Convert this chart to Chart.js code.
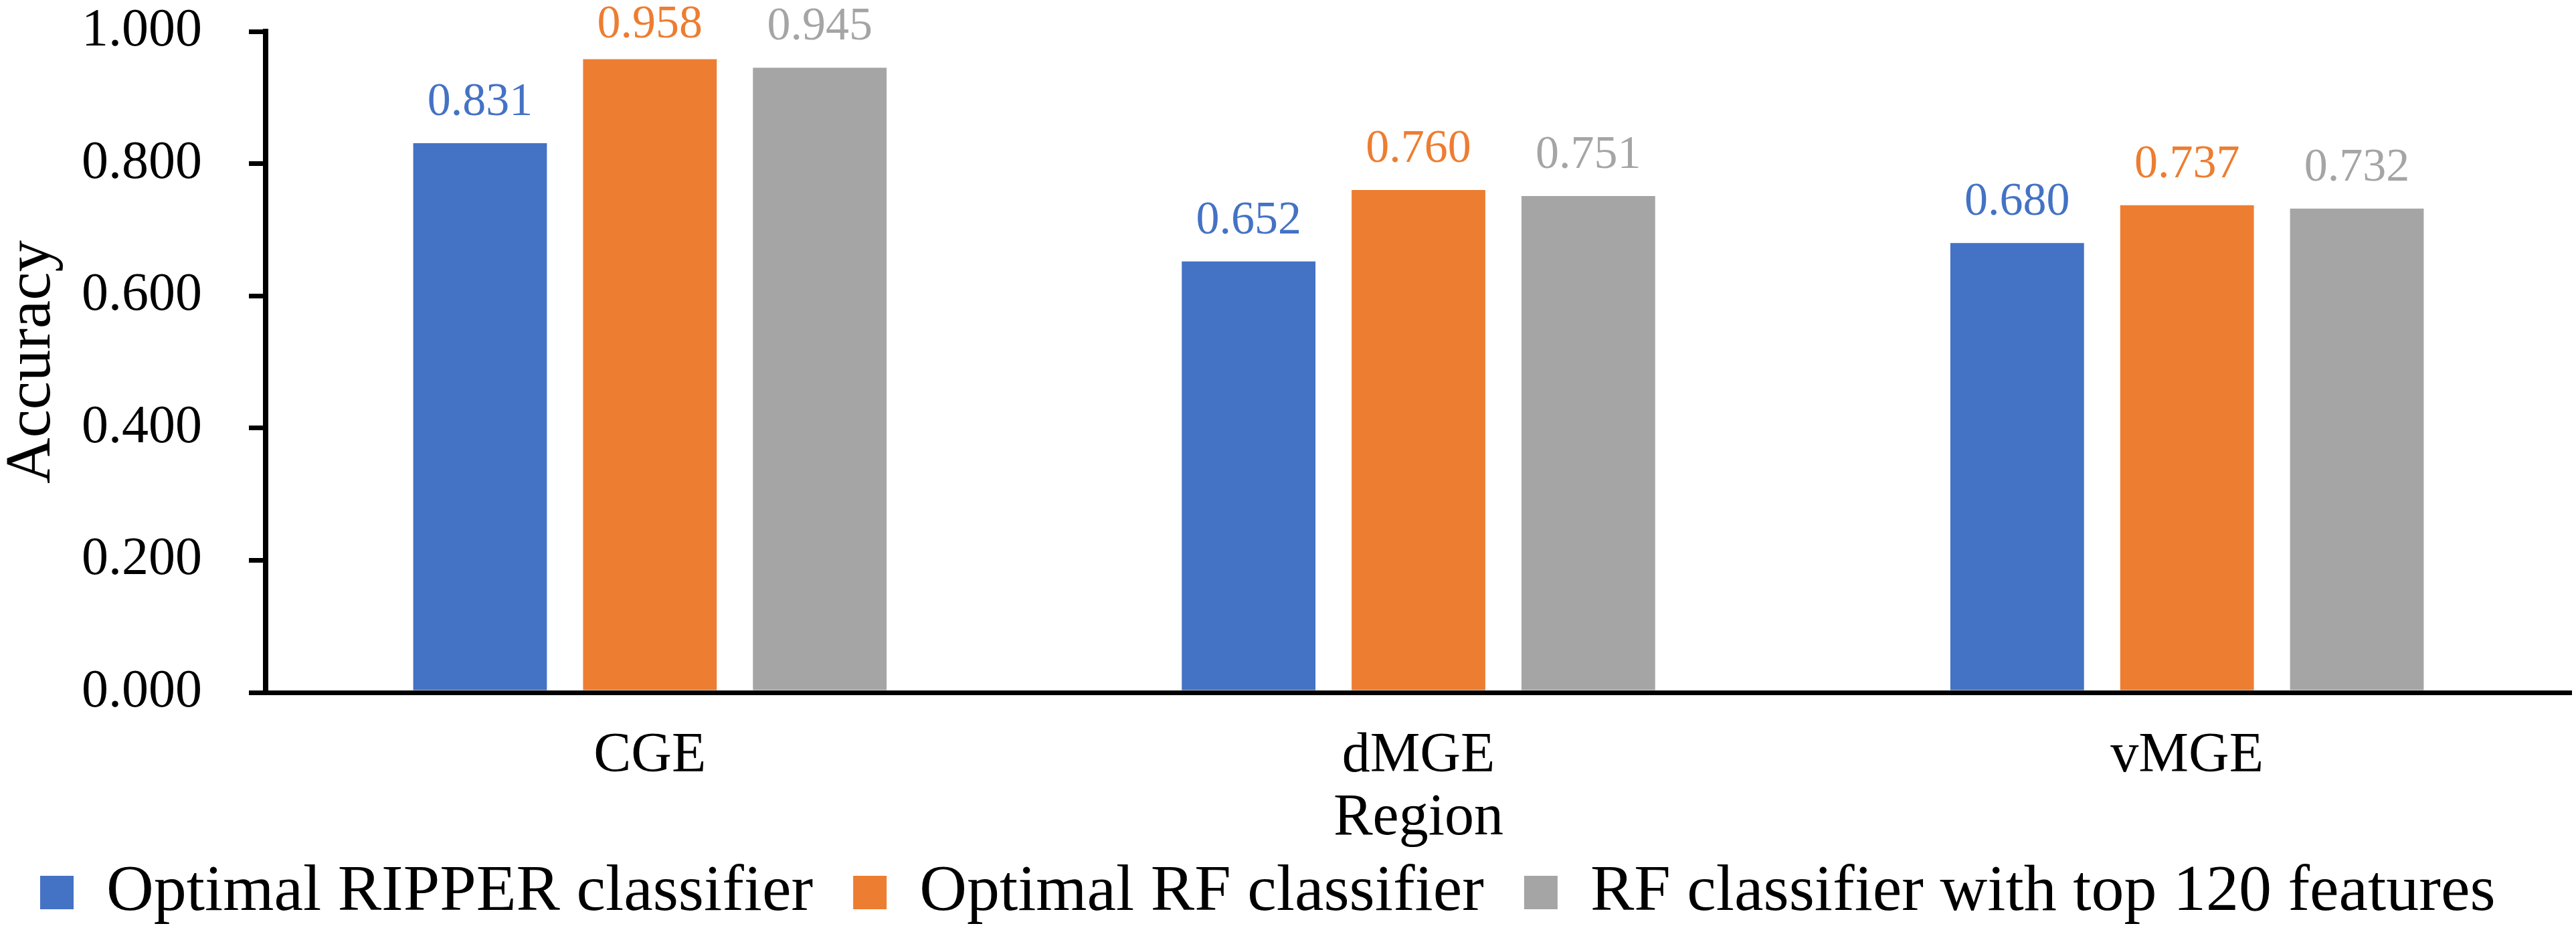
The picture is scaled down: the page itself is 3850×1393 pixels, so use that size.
<!DOCTYPE html>
<html>
<head>
<meta charset="utf-8">
<script src="https://cdn.jsdelivr.net/npm/chart.js@4.4.1/dist/chart.umd.min.js"></script>
<style>
  html, body { margin: 0; padding: 0; background: #ffffff; }
  #wrap { position: relative; width: 3850px; height: 1393px; }
</style>
</head>
<body>
<div id="wrap"><canvas id="c"></canvas></div>
<script>
const categories = ['CGE', 'dMGE', 'vMGE'];
const seriesNames = ['Optimal RIPPER classifier', 'Optimal RF classifier', 'RF classifier with top 120 features'];
const ripperValues = [0.831, 0.652, 0.680];
const rfValues = [0.958, 0.760, 0.737];
const rfTop120Values = [0.945, 0.751, 0.732];
const seriesColors = ['#4472C4', '#ED7D31', '#A5A5A5'];
const yMin = 0, yMax = 1.0, yStep = 0.2;
const xTitle = 'Region';
const yTitle = 'Accuracy';

const FONT = '"Liberation Serif", "Times New Roman", serif';

const valueLabels = {
  id: 'valueLabels',
  afterDatasetsDraw(chart) {
    const ctx = chart.ctx;
    const minBaseline = chart.chartArea.top + 9;
    chart.data.datasets.forEach((ds, i) => {
      const meta = chart.getDatasetMeta(i);
      meta.data.forEach((bar, j) => {
        ctx.save();
        ctx.font = '70px ' + FONT;
        ctx.fillStyle = ds.backgroundColor;
        ctx.textAlign = 'center';
        ctx.textBaseline = 'alphabetic';
        ctx.fillText(ds.data[j].toFixed(3), bar.x, Math.max(bar.y - 42, minBaseline));
        ctx.restore();
      });
    });
  }
};

const chart = new Chart(document.getElementById('c'), {
  type: 'bar',
  data: {
    labels: categories,
    datasets: [
      { label: seriesNames[0], data: ripperValues, backgroundColor: seriesColors[0] },
      { label: seriesNames[1], data: rfValues, backgroundColor: seriesColors[1] },
      { label: seriesNames[2], data: rfTop120Values, backgroundColor: seriesColors[2] }
    ]
  },
  options: {
    responsive: true,
    maintainAspectRatio: false,
    devicePixelRatio: 1,
    animation: false,
    categoryPercentage: 0.663,
    barPercentage: 0.787,
    layout: { padding: { top: 47, right: 7, left: 0, bottom: 0 } },
    plugins: {
      tooltip: { enabled: false },
      legend: {
        position: 'bottom',
        align: 'start',
        labels: {
          font: { family: FONT, size: 98 },
          color: '#000000',
          boxWidth: 50,
          boxHeight: 50,
          padding: 60
        }
      }
    },
    scales: {
      x: {
        grid: { display: false },
        border: { display: true, color: '#000000', width: 7 },
        ticks: { color: '#000000', font: { family: FONT, size: 84 }, padding: 38 },
        title: { display: true, text: xTitle, color: '#000000', font: { family: FONT, size: 88, lineHeight: 0.02 }, padding: { top: 0, bottom: 0 } },
        afterFit(scale) { scale.height = 190; scale.paddingLeft = 0; scale.paddingRight = 0; }
      },
      y: {
        min: yMin, max: yMax,
        grid: { display: true, drawOnChartArea: false, drawTicks: true, tickLength: 25, color: '#000000', lineWidth: 7 },
        border: { display: true, color: '#000000', width: 8 },
        ticks: { stepSize: yStep, color: '#000000', font: { family: FONT, size: 80 }, padding: 70,
                 callback: (v) => Number(v).toFixed(3) },
        title: { display: true, text: yTitle, color: '#000000', font: { family: FONT, size: 95, lineHeight: 1.0 }, padding: { top: 1.5, bottom: 0 } },
        afterFit(scale) { scale.width = 397; scale.paddingTop = 0; scale.paddingBottom = 0; }
      }
    }
  },
  plugins: [valueLabels]
});
</script>
</body>
</html>
